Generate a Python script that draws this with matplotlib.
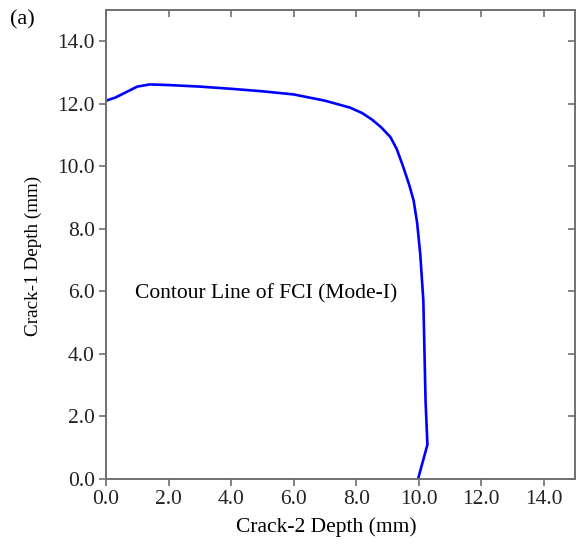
import matplotlib
matplotlib.use("Agg")
import matplotlib.pyplot as plt
import matplotlib.lines as mlines

# contour line of FCI (Mode-I)
crack2 = [0.0, 0.3, 0.6, 1.0, 1.4, 2.0, 3.0, 4.0, 5.0, 6.0, 7.0, 7.8, 8.2, 8.5, 8.8,
          9.1, 9.3, 9.5, 9.7, 9.84, 9.95, 10.05, 10.15, 10.22, 10.28, 9.98]
crack1 = [12.1, 12.2, 12.35, 12.55, 12.62, 12.6, 12.55, 12.48, 12.4, 12.3, 12.1, 11.88, 11.7, 11.5, 11.25,
          10.93, 10.55, 10.0, 9.4, 8.9, 8.2, 7.2, 5.7, 2.5, 1.1, 0.0]
ticks = [0, 2, 4, 6, 8, 10, 12, 14]
tick_labels = ["0.0", "2.0", "4.0", "6.0", "8.0", "10.0", "12.0", "14.0"]

plt.rcParams['font.family'] = ['Liberation Serif', 'DejaVu Serif']
plt.rcParams['font.size'] = 15.5

fig = plt.figure(figsize=(5.84, 5.45), dpi=100)
ax = fig.add_axes([106/584, 66/545, 469/584, 469/545])

ax.plot(crack2, crack1, color="#0000ff", lw=1.9)
ax.set_xlim(0, 15)
ax.set_ylim(0, 15)
ax.set_xticks(ticks)
ax.set_xticklabels(tick_labels)
ax.set_yticks(ticks)
ax.set_yticklabels(tick_labels)

gray = "#707070"
for s in ax.spines.values():
    s.set_color(gray)
    s.set_linewidth(1.4)
ax.tick_params(axis="both", colors=gray, labelcolor="#222222", width=1.2, length=5, pad=3)
ax.tick_params(top=True, right=True)
# top/right ticks point inward
for t in ax.xaxis.get_major_ticks():
    t.tick2line.set_marker(mlines.TICKDOWN)
for t in ax.yaxis.get_major_ticks():
    t.tick2line.set_marker(mlines.TICKLEFT)

ax.set_xlabel("Crack-2 Depth (mm)")
ax.xaxis.set_label_coords(0.469, -0.082)
ax.set_ylabel("Crack-1 Depth (mm)", fontsize=13.8)
ax.yaxis.set_label_coords(-0.136, 0.475)
ax.text(0.93, 5.94, "Contour Line of FCI (Mode-I)", va="center", ha="left")
fig.text(10/584, 1 - 20/545, "(a)", fontsize=16, va="center", ha="left")

fig.savefig("out.png", dpi=100)
